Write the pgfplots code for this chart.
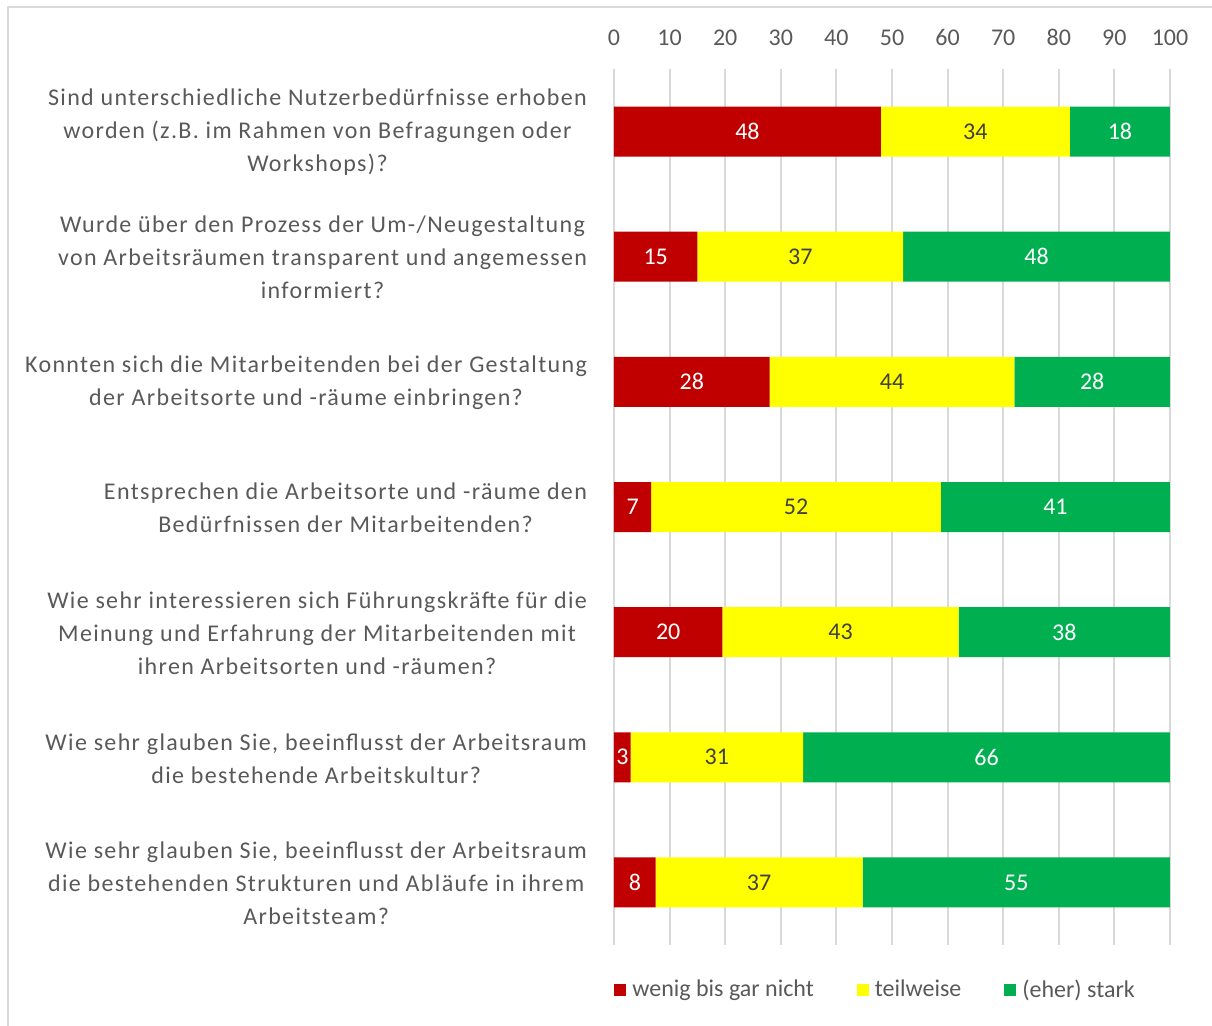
\documentclass[border=0pt]{standalone}
\usepackage{pgfplots}
\pgfplotsset{compat=1.18}
\usepackage{pgfplotstable}
\usepackage{fontspec}
\setmainfont{Carlito}
\newfontfamily\catfont{Carlito}[LetterSpace=5.6]
\definecolor{cred}{HTML}{C00000}
\definecolor{cyel}{HTML}{FFFF00}
\definecolor{cgrn}{HTML}{00B050}
\definecolor{txt}{HTML}{595959}
\definecolor{ytxt}{HTML}{404040}
\definecolor{gridc}{HTML}{D9D9D9}
\definecolor{framec}{HTML}{D9D9D9}

% s = start of the segment (sum of the segments before it), v = value, lab = printed label
\pgfplotstableread{
row s v lab
0 0 48 48
1 0 15 15
2 0 28 28
3 0 6.7 7
4 0 19.5 20
5 0 3 3
6 0 7.5 8
}\redtab
\pgfplotstableread{
row s v lab
0 48 34 34
1 15 37 37
2 28 44 44
3 6.7 52.1 52
4 19.5 42.5 43
5 3 31 31
6 7.5 37.2 37
}\yeltab
\pgfplotstableread{
row s v lab
0 82 18 18
1 52 48 48
2 72 28 28
3 58.8 41.2 41
4 62 38 38
5 34 66 66
6 44.7 55.3 55
}\grntab

\pgfplotsset{common/.style={
  at={(307pt,40.5pt)}, anchor=south west,
  scale only axis, width=278pt, height=438pt,
  xmin=0, xmax=100, ymin=-0.5, ymax=6.5, y dir=reverse,
}}

\begin{document}
\begin{tikzpicture}
\useasboundingbox (0,0) rectangle (606pt,513pt);
\draw[framec, line width=1pt] (4pt,-1pt) -- (4pt,509.5pt) -- (607pt,509.5pt);
\begin{axis}[
  common,
  xbar stacked, bar width=25pt,
  xtick={0,10,...,100}, xticklabel pos=upper,
  ytick={0,...,6},
  yticklabels={
    {Sind unterschiedliche Nutzerbedürfnisse erhoben\\worden (z.B. im Rahmen von Befragungen oder\\Workshops)?},
    {Wurde über den Prozess der Um-/Neugestaltung\\von Arbeitsräumen transparent und angemessen\\informiert?},
    {Konnten sich die Mitarbeitenden bei der Gestaltung\\der Arbeitsorte und -räume einbringen?},
    {Entsprechen die Arbeitsorte und -räume den\\Bedürfnissen der Mitarbeitenden?},
    {Wie sehr interessieren sich Führungskräfte für die\\Meinung und Erfahrung der Mitarbeitenden mit\\ihren Arbeitsorten und -räumen?},
    {Wie sehr glauben Sie, beeinflusst der Arbeitsraum\\die bestehende Arbeitskultur?},
    {Wie sehr glauben Sie, beeinflusst der Arbeitsraum\\die bestehenden Strukturen und Abläufe in ihrem\\Arbeitsteam?}
  },
  xmajorgrids, major grid style={gridc, line width=1pt},
  axis line style={draw=none}, major tick length=0pt,
  tick label style={font=\fontsize{12}{14}\selectfont, text=txt},
  /pgf/number format/assume math mode=true,
  xticklabel style={yshift=8pt},
  yticklabel style={align=center, anchor=east, xshift=-10pt, yshift=-0.5pt, font=\catfont\fontsize{12}{16.5}\selectfont},
  legend style={at={(0,0)}, anchor=west, yshift=-22.5pt, draw=none, fill=none,
    legend columns=3, font=\fontsize{12}{14}\selectfont, text=txt, inner xsep=0pt,
    /tikz/every even column/.append style={column sep=19.5pt}},
  legend image code/.code={\fill[#1] (0pt,-3pt) rectangle (6pt,3pt); \path (7pt,0pt);},
]
\addplot[fill=cred, draw=none] table[x=v, y=row] {\redtab};
\addplot[fill=cyel, draw=none] table[x=v, y=row] {\yeltab};
\addplot[fill=cgrn, draw=none] table[x=v, y=row] {\grntab};
\legend{wenig bis gar nicht, teilweise, (eher) stark}
\end{axis}
\begin{axis}[
  common, hide axis,
  nodes near coords, point meta=explicit symbolic,
  every node near coord/.append style={anchor=center, font=\fontsize{12}{14}\selectfont},
]
\addplot[only marks, mark=none, every node near coord/.append style={text=white}] table[x expr=\thisrow{s}+\thisrow{v}/2, y=row, meta=lab] {\redtab};
\addplot[only marks, mark=none, every node near coord/.append style={text=ytxt}] table[x expr=\thisrow{s}+\thisrow{v}/2, y=row, meta=lab] {\yeltab};
\addplot[only marks, mark=none, every node near coord/.append style={text=white}] table[x expr=\thisrow{s}+\thisrow{v}/2, y=row, meta=lab] {\grntab};
\end{axis}
\end{tikzpicture}
\end{document}
